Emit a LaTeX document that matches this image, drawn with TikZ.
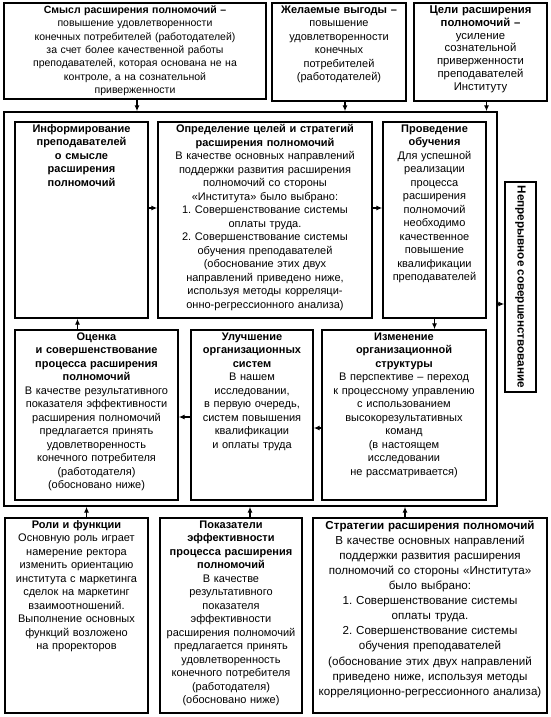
\documentclass[tikz,border=0pt]{standalone}
\usepackage{fontspec}
\setmainfont{Liberation Sans}
\usetikzlibrary{arrows.meta,positioning,calc}
\frenchspacing

\begin{document}
\begin{tikzpicture}[x=1pt,y=-1pt,
  box/.style={draw,line width=1.4pt,inner sep=0pt},
  txt/.style={anchor=north,align=center,inner sep=3pt,font=\fontsize{11}{13.5}\selectfont},
  arr/.style={line width=1.2pt,-{Latex[length=6pt,width=5pt]}}]
\useasboundingbox (0,0) rectangle (550,717);
\node[box,minimum width=262,minimum height=96] (smysl) at (135,51) {};
\node[txt,text width=258,font=\fontsize{10.5}{13.4}\selectfont] (smysl-t) at (smysl.north) {\textbf{Смысл расширения полномочий –}\\ повышение удовлетворенности\\ конечных потребителей (работодателей)\\ за счет более качественной работы\\ преподавателей, которая основана не на\\ контроле, а на сознательной\\ приверженности};
\node[box,minimum width=134,minimum height=98] (zhel) at (339,52) {};
\node[txt,text width=130] (zhel-t) at (zhel.north) {\textbf{Желаемые выгоды –}\\ повышение\\ удовлетворенности\\ конечных\\ потребителей\\ (работодателей)};
\node[box,minimum width=133,minimum height=98] (celi) at (480.5,52) {};
\node[txt,text width=129,font=\fontsize{11.3}{12.9}\selectfont] (celi-t) at (celi.north) {\textbf{Цели расширения}\\ \textbf{полномочий –}\\ усиление\\ сознательной\\ приверженности\\ преподавателей\\ Институту};
\node[box,minimum width=493,minimum height=394] (ramka) at (250.5,309) {};
\node[box,minimum width=133,minimum height=196] (info) at (81.5,220) {};
\node[txt,text width=129] (info-t) at (info.north) {\textbf{Информирование}\\ \textbf{преподавателей}\\ \textbf{о смысле}\\ \textbf{расширения}\\ \textbf{полномочий}};
\node[box,minimum width=214,minimum height=196] (opred) at (265,220) {};
\node[txt,text width=210] (opred-t) at (opred.north) {\textbf{Определение целей и стратегий}\\ \textbf{расширения полномочий}\\ В качестве основных направлений\\ поддержки развития расширения\\ полномочий со стороны\\ «Института» было выбрано:\\ 1. Совершенствование системы\\ оплаты труда.\\ 2. Совершенствование системы\\ обучения преподавателей\\ (обоснование этих двух\\ направлений приведено ниже,\\ используя методы корреляци-\\ онно-регрессионного анализа)};
\node[box,minimum width=103,minimum height=196] (proved) at (434.5,220) {};
\node[txt,text width=99] (proved-t) at (proved.north) {\textbf{Проведение}\\ \textbf{обучения}\\ Для успешной\\ реализации\\ процесса\\ расширения\\ полномочий\\ необходимо\\ качественное\\ повышение\\ квалификации\\ преподавателей};
\node[box,minimum width=163,minimum height=170] (ocenka) at (96.5,415) {};
\node[txt,text width=159] (ocenka-t) at (ocenka.north) {\textbf{Оценка}\\ \textbf{и совершенствование}\\ \textbf{процесса расширения}\\ \textbf{полномочий}\\ В качестве результативного\\ показателя эффективности\\ расширения полномочий\\ предлагается принять\\ удовлетворенность\\ конечного потребителя\\ (работодателя)\\ (обосновано ниже)};
\node[box,minimum width=122,minimum height=170] (uluch) at (252,415) {};
\node[txt,text width=118] (uluch-t) at (uluch.north) {\textbf{Улучшение}\\ \textbf{организационных}\\ \textbf{систем}\\ В нашем\\ исследовании,\\ в первую очередь,\\ систем повышения\\ квалификации\\ и оплаты труда};
\node[box,minimum width=164,minimum height=170] (izmen) at (404,415) {};
\node[txt,text width=160] (izmen-t) at (izmen.north) {\textbf{Изменение}\\ \textbf{организационной}\\ \textbf{структуры}\\ В перспективе – переход\\ к процессному управлению\\ с использованием\\ высокорезультативных\\ команд\\ (в настоящем\\ исследовании\\ не рассматривается)};
\node[box,minimum width=31,minimum height=210] (nepr) at (520.5,287) {};
\node[font=\fontsize{11.7}{13.5}\selectfont\bfseries,rotate=-90] (nepr-t) at (nepr) {Непрерывное совершенствование};
\node[box,minimum width=143,minimum height=195] (roli) at (76.5,615.5) {};
\node[txt,text width=139] (roli-t) at (roli.north) {\textbf{Роли и функции}\\ Основную роль играет\\ намерение ректора\\ изменить ориентацию\\ института с маркетинга\\ сделок на маркетинг\\ взаимоотношений.\\ Выполнение основных\\ функций возложено\\ на проректоров};
\node[box,minimum width=142,minimum height=195] (pokaz) at (231,615.5) {};
\node[txt,text width=138] (pokaz-t) at (pokaz.north) {\textbf{Показатели}\\ \textbf{эффективности}\\ \textbf{процесса расширения}\\ \textbf{полномочий}\\ В качестве\\ результативного\\ показателя\\ эффективности\\ расширения полномочий\\ предлагается принять\\ удовлетворенность\\ конечного потребителя\\ (работодателя)\\ (обосновано ниже)};
\node[box,minimum width=234,minimum height=195] (strat) at (430,615.5) {};
\node[txt,text width=230,font=\fontsize{11.6}{15.1}\selectfont] (strat-t) at (strat.north) {\textbf{Стратегии расширения полномочий}\\ В качестве основных направлений\\ поддержки развития расширения\\ полномочий со стороны «Института»\\ было выбрано:\\ 1. Совершенствование системы\\ оплаты труда.\\ 2. Совершенствование системы\\ обучения преподавателей\\ (обоснование этих двух направлений\\ приведено ниже, используя методы\\ корреляционно-регрессионного анализа)};
\draw[arr] ([xshift=2pt]smysl.south) -- ([xshift=2pt]smysl.south |- ramka.north);
\draw[arr] ([xshift=6pt]zhel.south) -- ([xshift=6pt]zhel.south |- ramka.north);
\draw[arr] ([xshift=6pt]celi.south) -- ([xshift=6pt]celi.south |- ramka.north);
\draw[arr] ([yshift=12pt]info.east) -- ([yshift=12pt]opred.west);
\draw[arr] ([yshift=12pt]opred.east) -- ([yshift=12pt]proved.west);
\draw[arr] (proved.south) -- (proved.south |- izmen.north);
\draw[arr] ([yshift=-13pt]izmen.west) -- ([yshift=-13pt]uluch.east);
\draw[arr] ([yshift=-2pt]uluch.west) -- ([yshift=-2pt]ocenka.east);
\draw[arr] ([xshift=-4pt]info.south |- ocenka.north) -- ([xshift=-4pt]info.south);
\draw[arr] ([yshift=5pt]ramka.east) -- ([yshift=5pt]ramka.east -| nepr.west);
\draw[arr] ([xshift=10pt]roli.north) -- ([xshift=10pt]roli.north |- ramka.south);
\draw[arr] ([xshift=19pt]pokaz.north) -- ([xshift=19pt]pokaz.north |- ramka.south);
\draw[arr] ([xshift=-25pt]strat.north) -- ([xshift=-25pt]strat.north |- ramka.south);
\end{tikzpicture}
\end{document}
